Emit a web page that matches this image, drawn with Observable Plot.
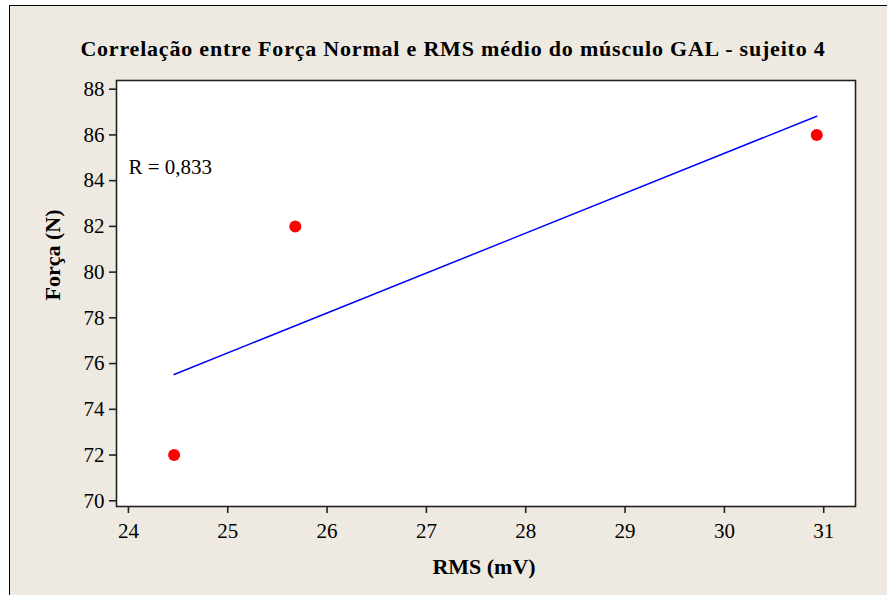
<!DOCTYPE html>
<html>
<head>
<meta charset="utf-8">
<script src="https://cdn.jsdelivr.net/npm/d3@7"></script>
<script src="https://cdn.jsdelivr.net/npm/@observablehq/plot@0.6"></script>
<style>
  html, body { margin: 0; padding: 0; background: #ffffff; }
  #wrap { position: relative; width: 887px; height: 595px; overflow: hidden; background: #ffffff; }
  #panel { position: absolute; left: 8.5px; top: 4.5px; width: 1000px; height: 800px;
           background: #EEEAE1; border-left: 1.5px solid #000; border-top: 1.5px solid #000; }
  #chart { position: absolute; left: 0; top: 0; }
</style>
</head>
<body>
<div id="wrap"><div id="panel"></div><div id="chart"></div></div>
<script>
const rms = [24.46, 25.68, 30.93];
const forca = [72, 82, 86];
const xTicks = [24, 25, 26, 27, 28, 29, 30, 31];
const yTicks = [70, 72, 74, 76, 78, 80, 82, 84, 86, 88];
const titleText = "Correlação entre Força Normal e RMS médio do músculo GAL - sujeito 4";
const xLabel = "RMS (mV)";
const yLabel = "Força (N)";
const rText = "R = 0,833";

const data = rms.map((x, i) => ({x, y: forca[i]}));

const chart = Plot.plot({
  width: 887,
  height: 595,
  marginLeft: 116,
  marginTop: 80,
  marginRight: 32,
  marginBottom: 89,
  style: {background: "transparent", fontFamily: "Liberation Serif, Times New Roman, serif", fontSize: "21px", color: "#000", overflow: "visible"},
  x: {domain: [23.88, 31.32]},
  y: {domain: [69.75, 88.38]},
  marks: [
    Plot.frame({fill: "white", stroke: null}),
    Plot.axisX({ticks: xTicks, tickFormat: d => String(d), tickSize: 7, tickPadding: 10, label: null, strokeWidth: 1.6, stroke: "#222"}),
    Plot.axisY({ticks: yTicks, tickFormat: d => String(d), tickSize: 7, tickPadding: 5, label: null, strokeWidth: 1.6, stroke: "#222"}),
    Plot.linearRegressionY(data, {x: "x", y: "y", ci: 0, stroke: "#0000FF", strokeWidth: 1.5}),
    Plot.dot(data, {x: "x", y: "y", r: 6, fill: "#FF0000", stroke: null}),
    Plot.text([rText], {frameAnchor: "top-left", dx: 12, dy: 87, lineAnchor: "middle", textAnchor: "start", fontSize: 21}),
    Plot.text([titleText], {frameAnchor: "top", dx: -33, dy: -32, lineAnchor: "middle", fontSize: 22, fontWeight: "bold", className: "chart-title"}),
    Plot.text([xLabel], {frameAnchor: "bottom", dx: -2, dy: 60, lineAnchor: "middle", fontSize: 22, fontWeight: "bold"}),
    Plot.text([yLabel], {frameAnchor: "left", dx: -64, dy: 7, rotate: -90, lineAnchor: "middle", fontSize: 22, fontWeight: "bold"}),
    Plot.frame({stroke: "#222", strokeWidth: 1.6})
  ]
});
d3.select(chart).selectAll("text").filter(function() { return this.textContent === titleText; })
  .attr("letter-spacing", "0.8px");
document.getElementById("chart").appendChild(chart);
</script>
</body>
</html>
